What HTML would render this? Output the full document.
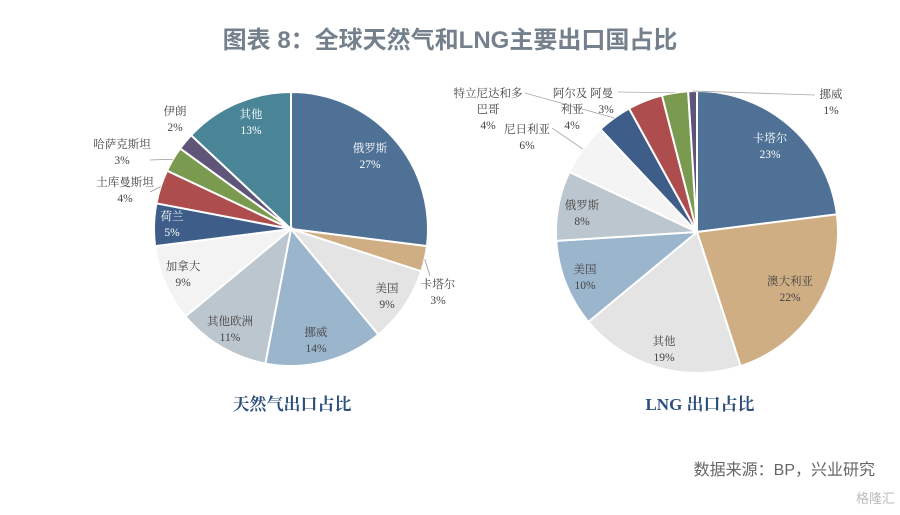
<!DOCTYPE html>
<html><head><meta charset="utf-8">
<style>
html,body{margin:0;padding:0;background:#fff;width:900px;height:515px;overflow:hidden}
svg{display:block}
text{font-family:"Liberation Serif","Noto Serif CJK SC",serif}
</style></head>
<body>
<svg id="chart" width="900" height="515" viewBox="0 0 900 515">
<text x="450" y="48" text-anchor="middle" font-size="24" font-weight="bold" fill="#74818d" style="font-family:'Liberation Sans','Noto Sans CJK SC',sans-serif">图表 8：全球天然气和LNG主要出口国占比</text>
<g id="pie1"></g>
<g id="pie2"></g>
<text x="292" y="410" text-anchor="middle" font-size="17" font-weight="bold" fill="#2d4f7c" style="font-family:'Liberation Serif','Noto Serif CJK SC',serif">天然气出口占比</text>
<text x="700" y="410" text-anchor="middle" font-size="17" font-weight="bold" fill="#2d4f7c" style="font-family:'Liberation Serif','Noto Serif CJK SC',serif">LNG 出口占比</text>
<text x="875" y="475" text-anchor="end" font-size="16" fill="#666" style="font-family:'Liberation Sans','Noto Sans CJK SC',sans-serif">数据来源：BP，兴业研究</text>
<text x="895" y="503" text-anchor="end" font-size="13" fill="#bbb" style="font-family:'Liberation Sans','Noto Sans CJK SC',sans-serif">格隆汇</text>
</svg>
<script>
const gasCategories = ["俄罗斯","卡塔尔","美国","挪威","其他欧洲","加拿大","荷兰","土库曼斯坦","哈萨克斯坦","伊朗","其他"];
const gasValues = [27,3,9,14,11,9,5,4,3,2,13];
const gasColors = ["#4f7196","#cfae84","#e4e4e4","#9bb5cd","#bcc6ce","#f3f3f3","#3e5e89","#ad4d4d","#7a9a50","#5f5579","#4a8597"];
const gasLabelPos = [[370,152],[438,288],[387,292],[316,336],[230,325],[183,270],[172,220],[125,186],[122,148],[175,115],[251,118]];
const gasLabelDark = [0,1,1,1,1,1,0,1,1,1,0];

const lngCategories = ["卡塔尔","澳大利亚","其他","美国","俄罗斯","尼日利亚","特立尼达和多巴哥","阿尔及利亚","阿曼","挪威"];
const lngValues = [23,22,19,10,8,6,4,4,3,1];
const lngColors = ["#4f7196","#cfae84","#e4e4e4","#9bb5cd","#bcc6ce","#f4f4f4","#3e5e89","#ad4d4d","#7a9a50","#5f5579"];

const NS="http://www.w3.org/2000/svg";
function mk(tag,attrs,parent){const e=document.createElementNS(NS,tag);for(const k in attrs)e.setAttribute(k,attrs[k]);parent.appendChild(e);return e;}
function drawPie(g,cx,cy,r,vals,colors,cats,prefix){
  const total=vals.reduce((a,b)=>a+b,0);let a0=-Math.PI/2;const mids=[];
  vals.forEach((v,i)=>{
    const a1=a0+v/total*2*Math.PI;
    const x0=cx+r*Math.cos(a0),y0=cy+r*Math.sin(a0),x1=cx+r*Math.cos(a1),y1=cy+r*Math.sin(a1);
    const large=(a1-a0)>Math.PI?1:0;
    const p=mk("path",{d:`M${cx},${cy}L${x0},${y0}A${r},${r} 0 ${large} 1 ${x1},${y1}Z`,fill:colors[i],stroke:"#fff","stroke-width":"2"},g);
    
    
    mids.push((a0+a1)/2);a0=a1;
  });
  return mids;
}
function label(g,x,y,lines,dark,name){
  const t=mk("text",{x:x,y:y,"text-anchor":"middle","font-size":"11.5",fill:dark?"#444":"#fff"},g);
  
  
  lines.forEach((l,i)=>{const s=mk("tspan",{x:x,dy:i?16:0},t);s.textContent=l;});
}
const g1=document.getElementById("pie1");
const m1=drawPie(g1,291,229,137,gasValues,gasColors,gasCategories,"gas");
[[1,430,276],[7,150,192],[8,150,160]].forEach(([i,lx,ly])=>{
  const ex=291+137*Math.cos(m1[i]),ey=229+137*Math.sin(m1[i]);
  const l=mk("line",{x1:ex,y1:ey,x2:lx,y2:ly,stroke:"#999","stroke-width":"0.8"},g1);
  
  
});
gasCategories.forEach((c,i)=>label(g1,gasLabelPos[i][0],gasLabelPos[i][1],[c,gasValues[i]+"%"],gasLabelDark[i],"gas-label-"+c));

const g2=document.getElementById("pie2");
const m2=drawPie(g2,697,232,141,lngValues,lngColors,lngCategories,"lng");
[[5,552,128],[6,525,93],[8,618,92],[9,815,95]].forEach(([i,lx,ly])=>{
  const ex=697+141*Math.cos(m2[i]),ey=232+141*Math.sin(m2[i]);
  const l=mk("line",{x1:ex,y1:ey,x2:lx,y2:ly,stroke:"#aaa","stroke-width":"0.8"},g2);
  
  
});
label(g2,770,142,[lngCategories[0],lngValues[0]+"%"],0,"lng-label-卡塔尔");
label(g2,790,285,[lngCategories[1],lngValues[1]+"%"],1,"lng-label-澳大利亚");
label(g2,664,345,[lngCategories[2],lngValues[2]+"%"],1,"lng-label-其他");
label(g2,585,273,[lngCategories[3],lngValues[3]+"%"],1,"lng-label-美国");
label(g2,582,209,[lngCategories[4],lngValues[4]+"%"],1,"lng-label-俄罗斯");
label(g2,527,133,[lngCategories[5],lngValues[5]+"%"],1,"lng-label-尼日利亚");
label(g2,488,97,["特立尼达和多","巴哥",lngValues[6]+"%"],1,"lng-label-特立尼达和多巴哥");
label(g2,572,113,["利亚",lngValues[7]+"%"],1,"lng-label-阿尔及利亚");
label(g2,583,97,["阿尔及 阿曼"],1,"lng-label-阿尔及-阿曼");
label(g2,606,113,[lngValues[8]+"%"],1,"lng-label-阿曼");
label(g2,831,98,[lngCategories[9],lngValues[9]+"%"],1,"lng-label-挪威");
</script>
</body></html>
